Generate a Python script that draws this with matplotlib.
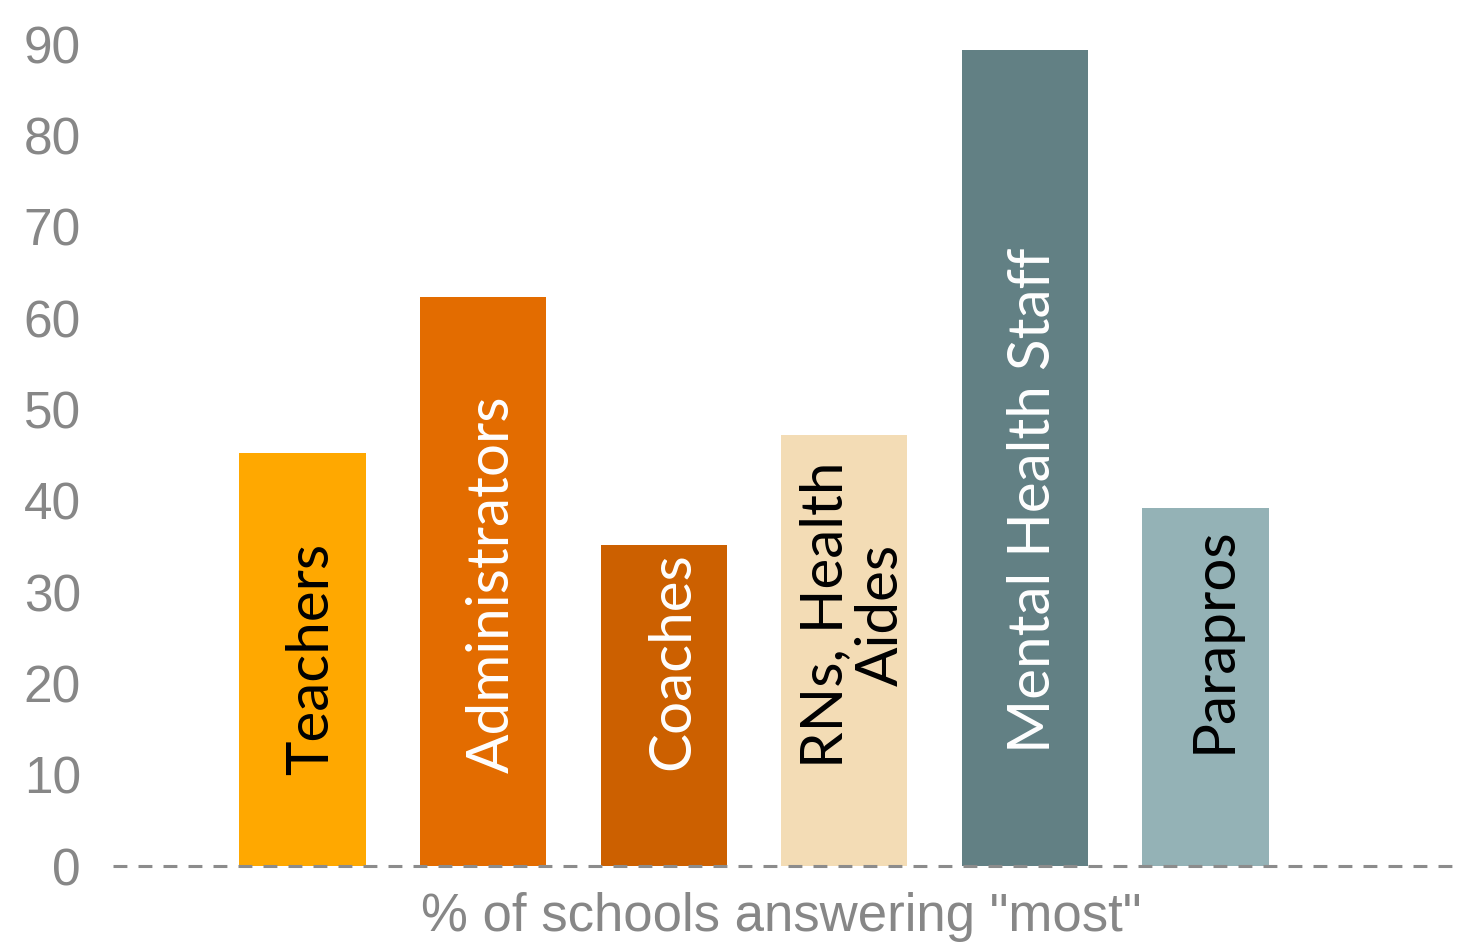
import matplotlib
matplotlib.use("Agg")
import matplotlib.pyplot as plt

# Data
categories = ["Teachers", "Administrators", "Coaches", "RNs, Health\nAides",
              "Mental Health Staff", "Parapros"]
values = [45.2, 62.3, 35.1, 47.2, 89.3, 39.2]
bar_colors = ["#FFA800", "#E36C00", "#CC6000", "#F3DCB5", "#628084", "#94B2B6"]
text_colors = ["black", "white", "white", "black", "white", "black"]
y_ticks = [0, 10, 20, 30, 40, 50, 60, 70, 80, 90]

# where the rotated labels start (in y units)
label_y = [10.0, 10.2, 10.5, 10.7, 12.4, 12.4]

gray = "#878787"
plt.rcParams["lines.scale_dashes"] = False

fig = plt.figure(figsize=(14.75, 9.44), dpi=100)
ax = fig.add_axes([113 / 1475, 78 / 944, 1347 / 1475, 822 / 944])

x = list(range(len(categories)))
ax.bar(x, values, width=0.70, color=bar_colors, zorder=1)

# Labels inside the bars
for xi, yi, name, tc in zip(x, label_y, categories, text_colors):
    ax.text(xi + 0.05, yi, name, rotation=90, ha="center", va="bottom",
            multialignment="center", color=tc, fontsize=42,
            family=["Lato", "DejaVu Sans"], linespacing=1.05, zorder=3)

# Dashed baseline
ax.axhline(0, color="#8c8c8c", linewidth=2.2, linestyle=(0, (10, 8)), zorder=2,
           clip_on=False)

ax.set_xlim(-1.05, 6.41)
ax.set_ylim(0, 90)
ax.set_yticks(y_ticks)
ax.set_xticks([])
ax.tick_params(axis="y", length=0, pad=23, labelsize=37, labelcolor=gray)
for lbl in ax.get_yticklabels():
    lbl.set_family(["Liberation Sans", "DejaVu Sans"])

for side in ["top", "right", "left", "bottom"]:
    ax.spines[side].set_visible(False)

ax.set_xlabel('% of schools answering "most"', fontsize=38, color=gray,
              family=["Liberation Sans", "DejaVu Sans"])
ax.xaxis.set_label_coords(0.496, -0.0316)

fig.savefig("out.png", dpi=100)
